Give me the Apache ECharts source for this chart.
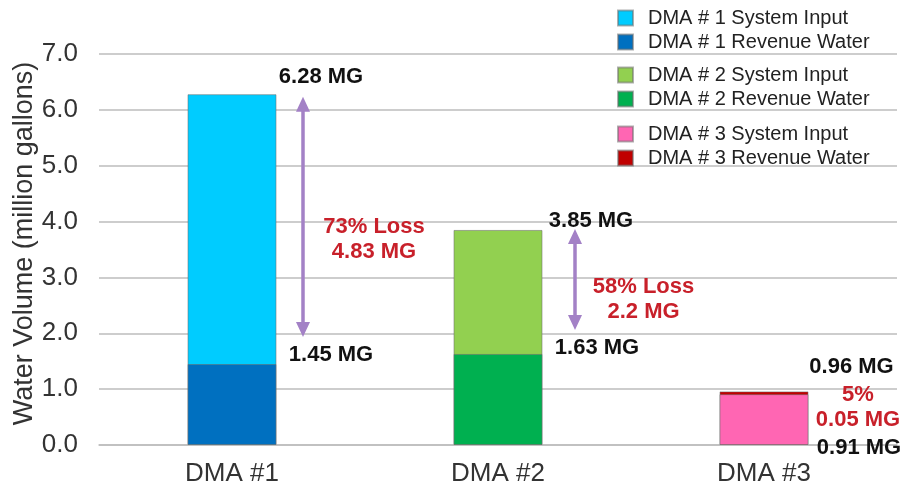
<!DOCTYPE html>
<html>
<head>
<meta charset="utf-8">
<script src="https://cdn.jsdelivr.net/npm/echarts@6/dist/echarts.min.js"></script>
<style>
  html, body { margin: 0; padding: 0; background: #fff; }
  #chart { width: 904px; height: 491px; }
</style>
</head>
<body>
<div id="chart"></div>
<script>
// District metered areas and their volumes (million gallons)
const categories = ['DMA #1', 'DMA #2', 'DMA #3'];
const systemInput = [6.28, 3.85, 0.91];
const revenueWater = [1.45, 1.63, 0.96];
const lossPercent = ['73%', '58%', '5%'];
const lossVolume = [4.83, 2.2, 0.05];
const yTicks = [0, 1, 2, 3, 4, 5, 6, 7];
const inputNames = ['DMA # 1 System Input', 'DMA # 2 System Input', 'DMA # 3 System Input'];
const revenueNames = ['DMA # 1 Revenue Water', 'DMA # 2 Revenue Water', 'DMA # 3 Revenue Water'];

const inputColors = ['#00ccff', '#92d050', '#ff66b3'];
const revenueColors = ['#0070c0', '#00b050', '#c00000'];
const FONT = '"Liberation Sans", Arial, sans-serif';
const ARROW = '#a381c6';
const LOSS_RED = '#c8202a';

const chart = echarts.init(document.getElementById('chart'), null, { renderer: 'canvas' });

function only(i, v) {
  return categories.map((_, k) => (k === i ? v : '-'));
}

const series = [];
categories.forEach((c, i) => {
  // the taller bar of each pair sits behind the shorter one
  const inputBehind = systemInput[i] >= revenueWater[i];
  series.push({
    name: inputNames[i], type: 'bar', data: only(i, systemInput[i]),
    barWidth: 89, barGap: '-100%', z: inputBehind ? 2 : 3,
    itemStyle: { color: inputColors[i], borderColor: 'rgba(110,110,110,0.55)', borderWidth: 1 }
  });
  series.push({
    name: revenueNames[i], type: 'bar', data: only(i, revenueWater[i]),
    barWidth: 89, barGap: '-100%', z: inputBehind ? 3 : 2,
    itemStyle: { color: revenueColors[i], borderColor: 'rgba(110,110,110,0.55)', borderWidth: 1 }
  });
});

const legendTops = [3, 60, 119];
const legends = categories.map((_, i) => ({
  data: [inputNames[i], revenueNames[i]],
  orient: 'vertical', left: 612, top: legendTops[i],
  itemWidth: 15, itemHeight: 15, itemGap: 4,
  selectedMode: false, icon: 'rect',
  textStyle: { fontFamily: FONT, fontSize: 20, lineHeight: 20, color: '#222', padding: [0, 0, 0, 10] }
}));

chart.setOption({
  animation: false,
  backgroundColor: '#fff',
  grid: { left: 99, right: 7, top: 54, bottom: 46, outerBoundsMode: 'none', containLabel: false },
  legend: legends,
  xAxis: {
    type: 'category', data: categories,
    axisLine: { show: true, lineStyle: { color: '#bdbdbd', width: 1.5 } },
    axisTick: { show: false },
    axisLabel: { fontFamily: FONT, fontSize: 26, color: '#333', margin: 16 }
  },
  yAxis: {
    type: 'value', min: yTicks[0], max: yTicks[yTicks.length - 1], interval: 1,
    name: 'Water Volume (million gallons)', nameLocation: 'middle', nameGap: 61,
    nameMoveOverlap: false,
    nameTextStyle: { fontFamily: FONT, fontSize: 27, color: '#333', padding: [0, 0, 0, 12] },
    axisLine: { show: false }, axisTick: { show: false },
    axisLabel: { fontFamily: FONT, fontSize: 26, color: '#333', margin: 21,
      formatter: v => v.toFixed(1) },
    splitLine: { lineStyle: { color: '#bdbdbd', width: 1.5 } }
  },
  series: series
});

// Annotation layout, in pixel offsets from each bar's centre / value
const layout = [
  { top: [89, -17], arrowX: 71, arrowTop: 2.5, arrowBottom: -27, loss: [142, 239], bottom: [99, -9] },
  { top: [93, -9.5], arrowX: 77, arrowTop: -1, arrowBottom: -24, loss: [145.5, 299], bottom: [99, -6] },
  { top: [87.5, -24.5], loss: [94, 407.5], bottom: [95, 3] }
];

function px(i, v) {
  return chart.convertToPixel({ gridIndex: 0 }, [categories[i], v]);
}

function text(x, y, str, color, size) {
  return {
    type: 'text', x: x, y: y, z: 10,
    style: { text: str, fill: color, font: 'bold ' + size + 'px ' + FONT, align: 'center', verticalAlign: 'middle' }
  };
}

function arrow(x, y1, y2) {
  const hw = 7, hl = 15;
  return [
    { type: 'line', z: 9, shape: { x1: x, y1: y1 + hl - 2, x2: x, y2: y2 - hl + 2 }, style: { stroke: ARROW, lineWidth: 3.5 } },
    { type: 'polygon', z: 9, shape: { points: [[x, y1], [x - hw, y1 + hl], [x + hw, y1 + hl]] }, style: { fill: ARROW } },
    { type: 'polygon', z: 9, shape: { points: [[x, y2], [x - hw, y2 - hl], [x + hw, y2 - hl]] }, style: { fill: ARROW } }
  ];
}

const graphics = [];
categories.forEach((c, i) => {
  const L = layout[i];
  const hi = Math.max(systemInput[i], revenueWater[i]);
  const lo = Math.min(systemInput[i], revenueWater[i]);
  const pHi = px(i, hi), pLo = px(i, lo);
  const cx = pHi[0];
  graphics.push(text(cx + L.top[0], pHi[1] + L.top[1], hi.toFixed(2) + ' MG', '#111', 22));
  if (i < 2) {
    graphics.push(...arrow(cx + L.arrowX, pHi[1] + L.arrowTop, pLo[1] + L.arrowBottom));
    graphics.push(text(cx + L.loss[0], L.loss[1] - 12.5, lossPercent[i] + ' Loss', LOSS_RED, 22));
    graphics.push(text(cx + L.loss[0], L.loss[1] + 12.5, lossVolume[i] + ' MG', LOSS_RED, 22));
    graphics.push(text(cx + L.bottom[0], pLo[1] + L.bottom[1], lo.toFixed(2) + ' MG', '#111', 22));
  } else {
    graphics.push(text(cx + L.loss[0], L.loss[1] - 12.5, lossPercent[i], LOSS_RED, 22));
    graphics.push(text(cx + L.loss[0], L.loss[1] + 12.5, lossVolume[i].toFixed(2) + ' MG', LOSS_RED, 22));
    const base = px(i, 0);
    graphics.push(text(cx + L.bottom[0], base[1] + L.bottom[1], lo.toFixed(2) + ' MG', '#111', 22));
  }
});

chart.setOption({ graphic: graphics });
</script>
</body>
</html>
